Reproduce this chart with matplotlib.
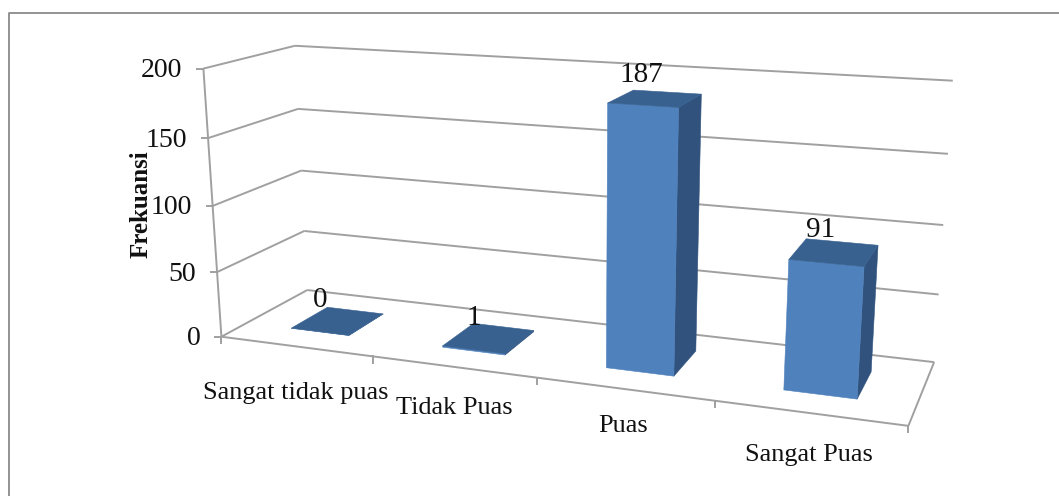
import numpy as np
import matplotlib
matplotlib.use("Agg")
import matplotlib.pyplot as plt
from matplotlib.patches import Polygon

plt.rcParams['font.family'] = ['Liberation Serif', 'DejaVu Serif']

categories = ["Sangat tidak puas", "Tidak Puas", "Puas", "Sangat Puas"]
frequencies = [0, 1, 187, 91]
value_ticks = [0, 50, 100, 150, 200]
y_title = "Frekuansi"

W, H = 1059, 496
FRONT = '#4F81BD'
SIDE = '#30527D'
TOP = '#386190'
GRID = '#A0A0A0'
INK = '#111111'

# (category position, value, depth) -> canvas pixel pairs used to calibrate the view
view_anchors = [
    ((0, 200, 0), (203, 68.3)), ((0, 150, 0), (207.7, 138.7)),
    ((0, 100, 0), (212.3, 205.3)), ((0, 50, 0), (217.3, 272.3)),
    ((0, 0, 0), (222.3, 336.7)), ((4, 0, 0), (908.3, 426)),
    ((0, 200, 1), (295.7, 45.7)), ((0, 150, 1), (298.3, 109)),
    ((0, 100, 1), (301, 170.7)), ((0, 50, 1), (304, 231)),
    ((0, 0, 1), (306.7, 290)), ((4, 200, 1), (952.7, 80.7)),
    ((4, 150, 1), (947.7, 154)), ((4, 100, 1), (943.3, 225)),
    ((4, 50, 1), (939, 294)), ((4, 0, 1), (934, 362.3)),
]


def fit_view(anchors):
    rows = []
    for (a, b, c), (px, py) in anchors:
        v = [a, b, c, 1]
        rows.append(v + [0, 0, 0, 0] + [-px * t for t in v])
        rows.append([0, 0, 0, 0] + v + [-py * t for t in v])
    return np.linalg.svd(np.array(rows, float))[2][-1].reshape(3, 4)


VIEW = fit_view(view_anchors)


def project(cat, val, depth):
    q = VIEW @ np.array([cat, val, depth, 1.0])
    return q[0] / q[2], q[1] / q[2]


def line3(ax, a, b, lw=1.4, color=GRID, zorder=1):
    p, q = project(*a), project(*b)
    ax.plot([p[0], q[0]], [p[1], q[1]], color=color, lw=lw, zorder=zorder,
            solid_capstyle='butt')


fig = plt.figure(figsize=(W / 100, H / 100), dpi=100)
ax = fig.add_axes([0, 0, 1, 1])
ax.set_xlim(0, W)
ax.set_ylim(H, 0)
ax.axis('off')

# outer chart frame
ax.plot([8.5, 8.5, W], [H, 12.5, 12.5], color='#8A8A8A', lw=1.3, zorder=0)

# walls and gridlines
for v in value_ticks:
    line3(ax, (0, v, 0), (0, v, 1))
    line3(ax, (0, v, 1), (4, v, 1))
    x, y = project(0, v, 0)
    ax.plot([x - 6, x], [y, y], color=GRID, lw=1.4)
    ax.text(x - 21, y + 2, str(v), ha='right', va='center', fontsize=20, color=INK)
line3(ax, (0, 0, 0), (0, 200, 0))
line3(ax, (0, 0, 0), (4, 0, 0))
line3(ax, (4, 0, 0), (4, 0, 1))

# category ticks along the front edge of the floor
for i in range(len(categories) + 1):
    x, y = project(i, 0, 0)
    ax.plot([x, x], [y, y + 6.5], color=GRID, lw=1.4)

# bars
half_w = 0.195
d0, d1 = 0.28, 0.72
label_xy = [(320.5, 300), (474, 318), (641, 75), (821, 230)]
cat_xy = [(295.5, 393), (454, 407.5), (623, 426), (809, 455)]
for i, val in enumerate(frequencies):
    c0, c1 = i + 0.5 - half_w, i + 0.5 + half_w
    fbl = project(c0, 0, d0)
    fbr = project(c1, 0, d0)
    bbr = project(c1, 0, d1)
    ftl = project(c0, val, d0)
    ftr = project(c1, val, d0)
    btr = project(c1, val, d1)
    btl = project(c0, val, d1)
    ax.add_patch(Polygon([fbr, bbr, btr, ftr], fc=SIDE, ec=SIDE, lw=0.4, zorder=3))
    ax.add_patch(Polygon([fbl, fbr, ftr, ftl], fc=FRONT, ec=FRONT, lw=0.4, zorder=4))
    ax.add_patch(Polygon([ftl, ftr, btr, btl], fc=TOP, ec=TOP, lw=0.4, zorder=5))
    ax.text(*label_xy[i], str(val), ha='center', va='center', fontsize=21,
            color=INK, zorder=6)
    ax.text(*cat_xy[i], categories[i], ha='center', va='center', fontsize=18.9,
            color=INK, zorder=6)

ax.text(141.5, 204, y_title, rotation=90, ha='center', va='center', fontsize=18,
        fontweight='bold', color=INK, zorder=6)

fig.savefig('out.png', dpi=100)
